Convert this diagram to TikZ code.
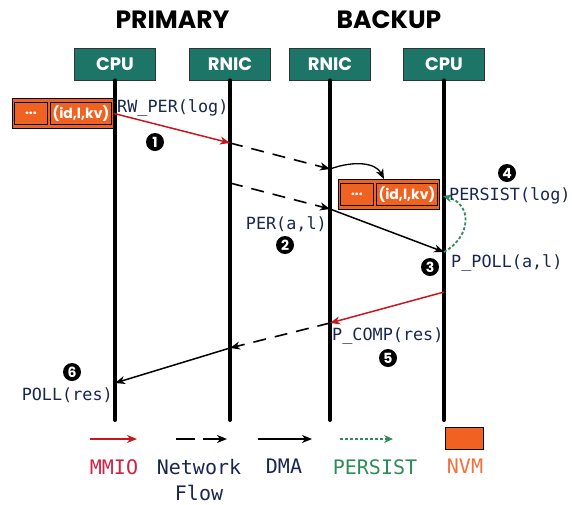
\documentclass[tikz,border=0pt]{standalone}
\usepackage{fontspec}
\newfontfamily\gothic{Poppins}
\newfontfamily\monof{DejaVu Sans Mono}
\usetikzlibrary{arrows.meta}
\definecolor{tealbox}{RGB}{29,117,104}
\definecolor{nvmorange}{RGB}{240,98,33}
\definecolor{mmiored}{RGB}{200,22,30}
\definecolor{mmiotext}{RGB}{205,35,70}
\definecolor{persistgreen}{RGB}{46,140,88}
\definecolor{lblnavy}{RGB}{25,38,78}
\definecolor{nvmtext}{RGB}{245,110,60}
\begin{document}
\begin{tikzpicture}[x=1pt,y=-1pt,
  unit/.style={draw=black!80, line width=0.8pt, fill=tealbox, text=white,
    minimum width=81pt, minimum height=32pt, inner sep=0pt,
    font=\gothic\bfseries\fontsize{18}{18}\selectfont},
  side/.style={font=\gothic\bfseries\fontsize{25}{25}\selectfont, inner sep=0pt},
  lifeline/.style={line width=4pt, line cap=round},
  tip/.style={-{Stealth[length=10pt,width=8pt,inset=3pt]}},
  mmio/.style={tip, draw=mmiored, line width=1.5pt},
  net/.style={tip, line width=1.6pt, dash pattern=on 13pt off 9pt},
  dma/.style={tip, line width=1.5pt},
  persist/.style={-{Stealth[length=9pt,width=8pt,inset=3pt]}, draw=persistgreen, line width=1.8pt, dash pattern=on 3pt off 2pt},
  lbl/.style={font=\monof\fontsize{16.8}{16.8}\selectfont, text=lblnavy, inner sep=0pt},
  marker/.style={circle, fill=black, text=white, minimum size=18pt, inner sep=0pt,
    font=\gothic\bfseries\fontsize{14}{14}\selectfont},
  nvmouter/.style={draw=black, line width=0.9pt, fill=nvmorange, minimum width=101pt,
    minimum height=30pt, inner sep=0pt},
  nvmcell/.style={draw=black, line width=0.9pt, fill=nvmorange, minimum height=22pt,
    inner sep=0pt, text=white, font=\gothic\bfseries\fontsize{14}{14}\selectfont},
  legtext/.style={font=\monof\fontsize{20}{26}\selectfont, inner sep=0pt, align=center}
]
\useasboundingbox (0,0) rectangle (572,504);

% headers
\node[side] (prim) at (172.5,19.5) {PRIMARY};
\node[side] (back) at (389,19.5) {BACKUP};

% units
\node[unit] (cpuP) at (115,64) {CPU};
\node[unit] (rnicP) at (230,64) {RNIC};
\node[unit] (rnicB) at (330,64) {RNIC};
\node[unit] (cpuB) at (444,64) {CPU};

% lifelines
\coordinate (cpuPend) at (115,420);
\coordinate (rnicPend) at (230,420);
\coordinate (rnicBend) at (330,420);
\coordinate (cpuBend) at (444,420);
\draw[lifeline] (cpuP.south) -- (cpuPend);
\draw[lifeline] (rnicP.south) -- (rnicPend);
\draw[lifeline] (rnicB.south) -- (rnicBend);
\draw[lifeline] (cpuB.south) -- (cpuBend);

% NVM blocks
\node[nvmouter, anchor=north west] (logP) at (12,98) {};
\node[nvmcell, minimum width=33pt, anchor=north west] (logPa) at ([xshift=2pt,yshift=-4pt]logP.north west) {...};
\node[nvmcell, minimum width=61pt, anchor=north west] (logPb) at ([xshift=38pt,yshift=-4pt]logP.north west) {(id,l,kv)};

\node[nvmouter, anchor=north west] (logB) at (338,179) {};
\node[nvmcell, minimum width=33pt, anchor=north west] (logBa) at ([xshift=2pt,yshift=-4pt]logB.north west) {...};
\node[nvmcell, minimum width=61pt, anchor=north west] (logBb) at ([xshift=38pt,yshift=-4pt]logB.north west) {(id,l,kv)};

% message points
\coordinate (m1e) at (230,143);
\coordinate (m2e) at (330,169);
\coordinate (m3s) at (230,183);
\coordinate (m3e) at (330,209);
\coordinate (m4e) at (444,252);
\coordinate (pst) at (443,196);
\coordinate (m5s) at (444,292);
\coordinate (m5e) at (330,323);
\coordinate (m6e) at (230,348);
\coordinate (m7e) at (115,383);

% messages
\draw[mmio] (logP.east) -- (m1e);
\draw[net] (m1e) -- (m2e);
\draw[dma, line width=1.3pt] (m2e) .. controls (355,160) and (376,163) .. ([xshift=-5pt]logB.north);
\draw[net] (m3s) -- (m3e);
\draw[dma] (m3e) -- (m4e);
\draw[persist] (m4e) .. controls (472,236) and (472,204) .. (pst);
\draw[mmio] (m5s) -- (m5e);
\draw[net] (m5e) -- (m6e);
\draw[dma] (m6e) -- (m7e);

% labels
\node[lbl, anchor=west] (l1) at (117,108) {RW\_PER(log)};
\node[lbl, anchor=east] (l2) at (327,224) {PER(a,l)};
\node[lbl, anchor=west] (l4) at (449,196) {PERSIST(log)};
\node[lbl, anchor=west] (l3) at (451,263) {P\_POLL(a,l)};
\node[lbl, anchor=west] (l5) at (332,336) {P\_COMP(res)};
\node[lbl, anchor=east] (l6) at (113,395) {POLL(res)};

% markers
\node[marker] (k1) at (155,142) {1};
\node[marker] (k2) at (285,245) {2};
\node[marker] (k3) at (430,267) {3};
\node[marker] (k4) at (507,173) {4};
\node[marker] (k5) at (388,358) {5};
\node[marker] (k6) at (72,372) {6};

% legend
\coordinate (a1s) at (90,439);  \coordinate (a1e) at (137,439);
\coordinate (a2s) at (176,439); \coordinate (a2e) at (227,439);
\coordinate (a3s) at (258,439); \coordinate (a3e) at (312,439);
\coordinate (a4s) at (340,439); \coordinate (a4e) at (393,439);
\draw[mmio] (a1s) -- (a1e);
\draw[net, dash pattern=on 19pt off 8pt] (a2s) -- (a2e);
\draw[dma] (a3s) -- (a3e);
\draw[persist] (a4s) -- (a4e);
\node[draw=black, line width=0.9pt, fill=nvmorange, minimum width=38pt, minimum height=22pt, inner sep=0pt] (nvmkey) at (464,438) {};

\node[legtext, text=mmiotext, anchor=north] (t1) at (114,459) {MMIO};
\node[legtext, text=lblnavy, anchor=north] (t2) at (199,459) {Network\\Flow};
\node[legtext, text=lblnavy, anchor=north] (t3) at (284,459) {DMA};
\node[legtext, text=persistgreen, anchor=north] (t4) at (375,459) {PERSIST};
\node[legtext, text=nvmtext, anchor=north] (t5) at (465,459) {NVM};
\end{tikzpicture}
\end{document}
